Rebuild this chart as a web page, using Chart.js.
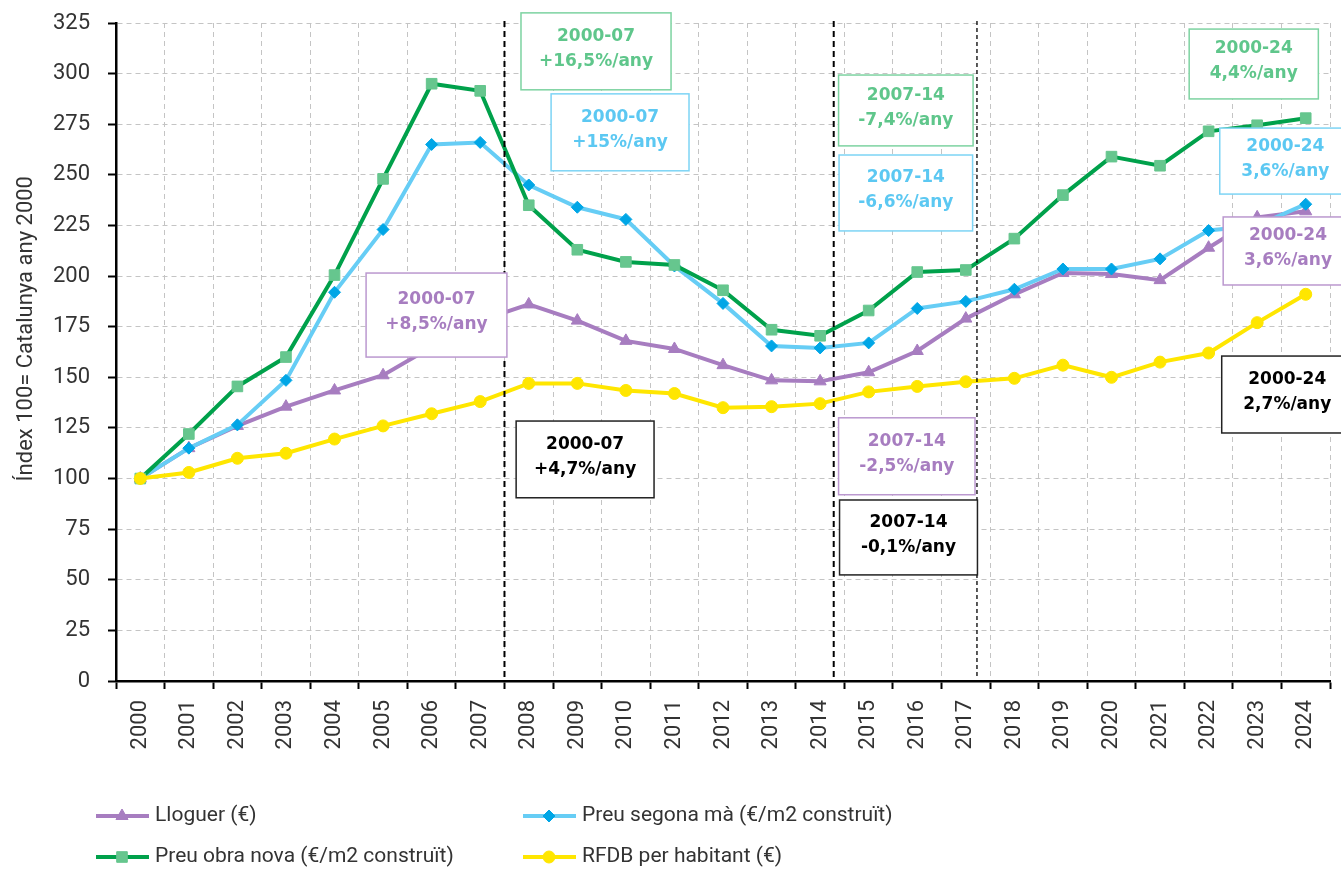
<!DOCTYPE html>
<html>
<head>
<meta charset="utf-8">
<script src="https://cdn.jsdelivr.net/npm/chart.js@4.4.0/dist/chart.umd.min.js"></script>
<style>
  html, body { margin: 0; padding: 0; background: #fff; }
  canvas { display: block; }
</style>
</head>
<body>
<canvas id="indexChart" width="1341" height="869"></canvas>
<script>
// index 100 = Catalunya 2000
const years = ['2000', '2001', '2002', '2003', '2004', '2005', '2006', '2007', '2008', '2009', '2010', '2011', '2012',
  '2013', '2014', '2015', '2016', '2017', '2018', '2019', '2020', '2021', '2022', '2023', '2024'];

const lloguer = [100, 115, 126, 135.5, 143.5, 151, 165, 178, 186, 178, 168, 164, 156, 148.5, 148, 152.5, 163, 179,
  191, 201.5, 201, 198, 214, 229, 232];
const segonaMa = [100, 115, 126.5, 148.5, 192, 223, 265, 266, 245, 234, 228, 205, 186.5, 165.5, 164.5, 167, 184,
  187.5, 193.5, 203.5, 203.5, 208.5, 222.5, 225, 235.5];
const obraNova = [100, 122, 145.5, 160, 200.5, 248, 295, 291.5, 235, 213, 207, 205.5, 193, 173.5, 170.5, 183, 202,
  203, 218.5, 240, 259, 254.5, 271.5, 274.5, 278];
const rfdb = [100, 103, 110, 112.5, 119.5, 126, 132, 138, 147, 147, 143.5, 142, 135, 135.5, 137, 142.8, 145.5,
  147.8, 149.5, 156, 150, 157.5, 162, 177, 191];

const yTicks = { min: 0, max: 325, step: 25 };
const yTitle = 'Índex 100= Catalunya any 2000';

// period separators (category index)
const periodLines = [7.5, 14.28, 17.23];

// growth labels: x in category index, y in index value
const boxLabels = [
  { lines: ['2000-07', '+16,5%/any'], color: '#5fc68b', border: '#7dd3a1', x0: 7.84, x1: 10.93, y0: 292, y1: 330 },
  { lines: ['2000-07', '+15%/any'], color: '#5cc8f2', border: '#7dd4f5', x0: 8.46, x1: 11.3, y0: 252, y1: 290 },
  { lines: ['2000-07', '+8,5%/any'], color: '#a77dc0', border: '#bb98cf', x0: 4.65, x1: 7.55, y0: 160, y1: 201.5 },
  { lines: ['2000-07', '+4,7%/any'], color: '#000', border: '#222', x0: 7.74, x1: 10.58, y0: 90.5, y1: 128.4 },
  { lines: ['2007-14', '-7,4%/any'], color: '#5fc68b', border: '#7dd3a1', x0: 14.38, x1: 17.15, y0: 264.3, y1: 299.3 },
  { lines: ['2007-14', '-6,6%/any'], color: '#5cc8f2', border: '#7dd4f5', x0: 14.39, x1: 17.14, y0: 222.3, y1: 259.8 },
  { lines: ['2007-14', '-2,5%/any'], color: '#a77dc0', border: '#bb98cf', x0: 14.38, x1: 17.19, y0: 92, y1: 130 },
  { lines: ['2007-14', '-0,1%/any'], color: '#000', border: '#222', x0: 14.4, x1: 17.24, y0: 52.4, y1: 89.4 },
  { lines: ['2000-24', '4,4%/any'], color: '#5fc68b', border: '#7dd3a1', x0: 21.6, x1: 24.26, y0: 287.5, y1: 322 },
  { lines: ['2000-24', '3,6%/any'], color: '#5cc8f2', border: '#7dd4f5', x0: 22.23, x1: 24.93, y0: 240.5, y1: 273.1 },
  { lines: ['2000-24', '3,6%/any'], color: '#a77dc0', border: '#bb98cf', x0: 22.3, x1: 24.97, y0: 195.6, y1: 229.2 },
  { lines: ['2000-24', '2,7%/any'], color: '#000', border: '#222', x0: 22.27, x1: 24.97, y0: 122.5, y1: 160.5 }
];

const tickFont = { family: 'Roboto, "Liberation Sans", sans-serif', size: 22 };
const textColor = '#333';

const periodsPlugin = {
  id: 'periods',
  afterDatasetsDraw(chart) {
    const { ctx, scales: { x, y } } = chart;
    ctx.save();
    periodLines.forEach((v, i) => {
      const px = x.getPixelForValue(v);
      ctx.beginPath();
      ctx.setLineDash(i === 2 ? [4, 3] : [6, 4]);
      ctx.lineWidth = i === 2 ? 1.3 : 2;
      ctx.strokeStyle = '#000';
      ctx.moveTo(px, y.getPixelForValue(326));
      ctx.lineTo(px, y.getPixelForValue(2));
      ctx.stroke();
    });
    ctx.setLineDash([]);
    ctx.textAlign = 'center';
    ctx.textBaseline = 'middle';
    ctx.font = 'bold 17px "DejaVu Sans", sans-serif';
    boxLabels.forEach(b => {
      const left = x.getPixelForValue(b.x0);
      const right = x.getPixelForValue(b.x1);
      const top = y.getPixelForValue(b.y1);
      const bottom = y.getPixelForValue(b.y0);
      ctx.fillStyle = '#fff';
      ctx.fillRect(left, top, right - left, bottom - top);
      ctx.lineWidth = 1.5;
      ctx.strokeStyle = b.border;
      ctx.strokeRect(left, top, right - left, bottom - top);
      ctx.fillStyle = b.color;
      const cx = (left + right) / 2;
      const cy = (top + bottom) / 2;
      ctx.fillText(b.lines[0], cx, cy - 15);
      ctx.fillText(b.lines[1], cx, cy + 10);
    });
    ctx.restore();
  }
};

// two column legend under the axis, plus the y title (sits a bit above centre in the original)
const legendPlugin = {
  id: 'twoColLegend',
  afterDraw(chart) {
    const { ctx } = chart;
    const cols = [96, 523];
    const rows = [816, 857];
    ctx.save();
    chart.data.datasets.forEach((ds, i) => {
      const x0 = cols[i % 2];
      const yc = rows[Math.floor(i / 2)];
      ctx.beginPath();
      ctx.lineWidth = 4;
      ctx.strokeStyle = ds.borderColor;
      ctx.moveTo(x0, yc);
      ctx.lineTo(x0 + 53, yc);
      ctx.stroke();
      ctx.fillStyle = ds.pointBackgroundColor;
      ctx.strokeStyle = ds.pointBackgroundColor;
      ctx.lineWidth = 1;
      Chart.helpers.drawPoint(ctx, { pointStyle: ds.pointStyle, radius: ds.pointRadius, rotation: 0, borderWidth: 1 }, x0 + 26, yc);
      ctx.fillStyle = textColor;
      ctx.font = '21px Roboto, "Liberation Sans", sans-serif';
      ctx.textAlign = 'left';
      ctx.textBaseline = 'middle';
      ctx.fillText(ds.label, x0 + 59, yc);
    });

    const y = chart.scales.y;
    ctx.translate(26, y.getPixelForValue(174));
    ctx.rotate(-Math.PI / 2);
    ctx.textAlign = 'center';
    ctx.font = '22px Roboto, "Liberation Sans", sans-serif';
    ctx.fillText(yTitle, 0, 0);
    ctx.restore();
  }
};

const makeSeries = (label, data, line, marker, pointStyle, radius, order) => ({
  label,
  data,
  borderColor: line,
  backgroundColor: line,
  borderWidth: 4,
  tension: 0,
  pointStyle,
  pointRadius: radius,
  pointBackgroundColor: marker,
  pointBorderColor: marker,
  pointBorderWidth: 1,
  order
});

const gridOpts = {
  color: '#c4c4c4',
  lineWidth: 1,
  tickLength: 8,
  tickColor: '#000',
  tickWidth: 2,
  tickBorderDash: []
};
const borderOpts = { color: '#000', width: 2.5, dash: [5, 4] };

new Chart(document.getElementById('indexChart'), {
  type: 'line',
  data: {
    labels: years,
    datasets: [
      makeSeries('Lloguer (€)', lloguer, '#a77dc0', '#a77dc0', 'triangle', 7, 4),
      makeSeries('Preu segona mà (€/m2 construït)', segonaMa, '#66cdf5', '#00a6e6', 'rectRot', 6, 3),
      makeSeries('Preu obra nova (€/m2 construït)', obraNova, '#00a14b', '#66c68e', 'rect', 7.5, 2),
      makeSeries('RFDB per habitant (€)', rfdb, '#ffe600', '#ffe600', 'circle', 6, 1)
    ]
  },
  options: {
    responsive: false,
    animation: false,
    devicePixelRatio: 1,
    layout: { padding: { top: 23, right: 11, bottom: 100, left: 0 } },
    plugins: {
      legend: { display: false },
      tooltip: { enabled: false }
    },
    scales: {
      x: {
        offset: true,
        grid: { ...gridOpts, offset: true },
        border: borderOpts,
        ticks: {
          minRotation: 90,
          maxRotation: 90,
          autoSkip: false,
          padding: 11,
          color: textColor,
          font: tickFont
        },
        afterFit(scale) {
          scale.height = 88;
          scale.paddingLeft = 0;
          scale.paddingRight = 0;
        }
      },
      y: {
        min: yTicks.min,
        max: yTicks.max,
        grid: gridOpts,
        border: borderOpts,
        ticks: { stepSize: yTicks.step, padding: 18, color: textColor, font: tickFont },
        afterFit(scale) {
          scale.width = 116;
          scale.paddingTop = 0;
          scale.paddingBottom = 0;
        }
      }
    }
  },
  plugins: [periodsPlugin, legendPlugin]
});
</script>
</body>
</html>
